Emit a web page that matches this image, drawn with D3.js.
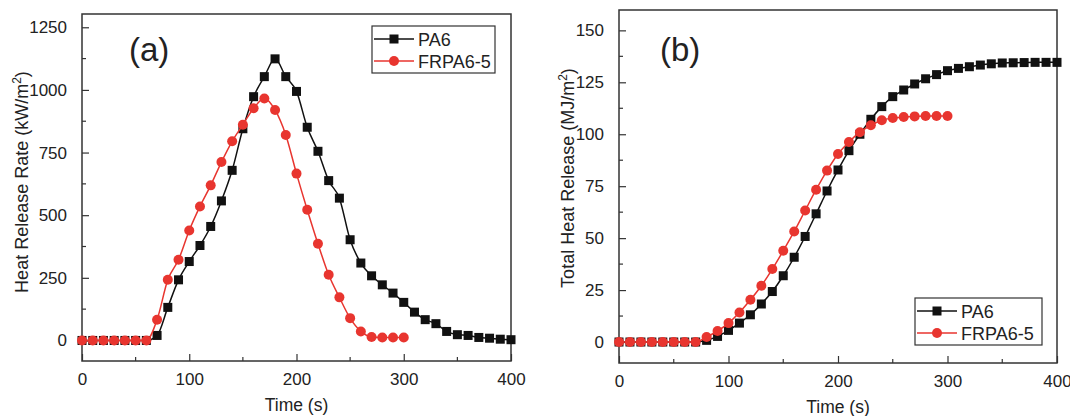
<html>
<head>
<style>
  body { margin: 0; background: #fff; }
  text { font-family: "Liberation Sans", Arial, sans-serif; fill: #222; }
</style>
</head>
<body>
<svg id="chart" width="1070" height="416"></svg>
<script src="https://cdn.jsdelivr.net/npm/d3@7"></script>
<script>
// time axis, 10 s steps
let timeA = d3.range(0, 401, 10)
let timeB = d3.range(0, 301, 10)

// (a) heat release rate, kW/m2
let hrrPA6 = [0, 0, 0, 0, 0, 0, 0, 20, 132, 242, 315, 379, 455, 557, 679, 845, 973, 1053, 1124, 1053, 994,
    851, 755, 638, 568, 402, 309, 258, 222, 189, 152, 113, 83, 67, 36, 23, 20, 12, 9, 5, 3]
let hrrFR = [0, 0, 0, 0, 0, 0, 0, 83, 242, 322, 439, 535, 619, 712, 795, 861, 927, 966, 920, 820, 666,
    522, 386, 262, 172, 89, 36, 14, 12, 12, 12]

// (b) total heat release, MJ/m2
let thrPA6 = [0, 0, 0, 0, 0, 0, 0, 0, 0.8, 2.7, 5.6, 9.1, 13.1, 18.3, 24.3, 31.9, 40.8, 50.8, 61.7, 72.7, 82.8,
    92.1, 100, 107.2, 113.3, 118.1, 121.3, 124.2, 126.7, 128.7, 130.6, 131.7, 132.5, 133.3, 133.9, 134.3,
    134.4, 134.5, 134.6, 134.6, 134.6]
let thrFR = [0, 0, 0, 0, 0, 0, 0, 0, 2.4, 5.3, 9.1, 14.2, 20.3, 27.1, 35.1, 43.9, 53.2, 63.3, 73.3, 82.5, 90.5,
    96.3, 101, 104.3, 106.7, 107.8, 108.3, 108.6, 108.8, 108.8, 108.8]

let seriesNames = ["PA6", "FRPA6-5"]
let xTicks = [0, 100, 200, 300, 400]
let yTicksA = [0, 250, 500, 750, 1000, 1250]
let yTicksB = [0, 25, 50, 75, 100, 125, 150]

let black = "#111"
let red = "#e8352f"
let svg = d3.select("#chart")

function drawPanel(opt) {
    let g = svg.append("g")
    let x = d3.scaleLinear().domain([0, 400]).range([opt.left, opt.right])
    let y = d3.scaleLinear().domain(opt.yDomain).range([opt.bottom, opt.top])

    // minor ticks
    let xMinor = d3.range(50, 400, 100)
    g.selectAll(".xminor").data(xMinor).enter().append("line")
        .attr("x1", d => x(d)).attr("x2", d => x(d))
        .attr("y1", opt.bottom).attr("y2", opt.bottom - 4)
        .attr("stroke", "#333").attr("stroke-width", 1.2)
    let yMinor = opt.yTicks.slice(0, -1).map(d => d + opt.yStep / 2)
    g.selectAll(".yminor").data(yMinor).enter().append("line")
        .attr("x1", opt.left).attr("x2", opt.left + 4)
        .attr("y1", d => y(d)).attr("y2", d => y(d))
        .attr("stroke", "#333").attr("stroke-width", 1.2)

    // axes
    let xAxis = g.append("g").attr("transform", `translate(0,${opt.bottom})`)
        .call(d3.axisBottom(x).tickValues(xTicks).tickFormat(d3.format("d"))
            .tickSizeInner(-7).tickSizeOuter(0).tickPadding(12))
    let yAxis = g.append("g").attr("transform", `translate(${opt.left},0)`)
        .call(d3.axisLeft(y).tickValues(opt.yTicks).tickFormat(d3.format("d"))
            .tickSizeInner(-7).tickSizeOuter(0).tickPadding(15))
    for (let ax of [xAxis, yAxis]) {
        ax.select(".domain").remove()
        ax.selectAll("line").attr("stroke", "#333").attr("stroke-width", 1.2)
        ax.selectAll("text").attr("font-size", 17).style("font-family", "Liberation Sans, Arial, sans-serif")
            .attr("fill", "#222")
    }

    // frame
    g.append("rect")
        .attr("x", opt.left).attr("y", opt.top)
        .attr("width", opt.right - opt.left).attr("height", opt.bottom - opt.top)
        .attr("fill", "none").attr("stroke", "#333").attr("stroke-width", 1.5)

    // titles
    g.append("text").attr("x", (opt.left + opt.right) / 2).attr("y", opt.xTitleY)
        .attr("text-anchor", "middle").attr("font-size", 17.5).text("Time (s)")
    let yt = g.append("text")
        .attr("transform", `translate(${opt.yTitleX},${opt.yTitleMid}) rotate(-90)`)
        .attr("text-anchor", "middle").attr("font-size", 18)
    yt.append("tspan").text(opt.yTitle)
    yt.append("tspan").attr("font-size", 12).attr("dy", -7).text("2")
    yt.append("tspan").attr("dy", 7).text(")")

    g.append("text").attr("x", opt.labelX).attr("y", opt.labelY)
        .attr("font-size", 33).text(opt.label)

    // series
    let line = d3.line().x(d => x(d[0])).y(d => y(d[1])).curve(d3.curveMonotoneX)
    let data1 = opt.t1.map((t, i) => [t, opt.s1[i]])
    let data2 = opt.t2.map((t, i) => [t, opt.s2[i]])

    g.append("path").datum(data1).attr("d", line)
        .attr("fill", "none").attr("stroke", black).attr("stroke-width", 1.5)
    g.selectAll(".sq").data(data1).enter().append("rect")
        .attr("x", d => x(d[0]) - 4.5).attr("y", d => y(d[1]) - 4.5)
        .attr("width", 9).attr("height", 9).attr("fill", black)

    g.append("path").datum(data2).attr("d", line)
        .attr("fill", "none").attr("stroke", red).attr("stroke-width", 1.5)
    g.selectAll(".ci").data(data2).enter().append("circle")
        .attr("cx", d => x(d[0])).attr("cy", d => y(d[1])).attr("r", 5)
        .attr("fill", red)

    // legend
    let lg = g.append("g").attr("transform", `translate(${opt.legX},${opt.legY})`)
    lg.append("rect").attr("width", opt.legW).attr("height", 47)
        .attr("fill", "white").attr("stroke", "#333").attr("stroke-width", 1.2)
    seriesNames.forEach((name, i) => {
        let cy = 13 + i * 22
        let col = i == 0 ? black : red
        lg.append("line").attr("x1", 2).attr("x2", 42).attr("y1", cy).attr("y2", cy)
            .attr("stroke", col).attr("stroke-width", 1.5)
        if (i == 0) {
            lg.append("rect").attr("x", 22 - 4.5).attr("y", cy - 4.5).attr("width", 9).attr("height", 9).attr("fill", col)
        } else {
            lg.append("circle").attr("cx", 22).attr("cy", cy).attr("r", 5).attr("fill", col)
        }
        lg.append("text").attr("x", 46).attr("y", cy + 6.5).attr("font-size", 18).text(name)
    })
}

drawPanel({
    left: 82, right: 511, top: 14, bottom: 361,
    yDomain: [-82, 1303], yTicks: yTicksA, yStep: 250,
    t1: timeA, s1: hrrPA6, t2: timeB, s2: hrrFR,
    yTitle: "Heat Release Rate (kW/m", yTitleX: 28, yTitleMid: 182, xTitleY: 411,
    label: "(a)", labelX: 129, labelY: 61,
    legX: 372, legY: 26, legW: 123
})

drawPanel({
    left: 619, right: 1057, top: 10, bottom: 363,
    yDomain: [-10.1, 159.8], yTicks: yTicksB, yStep: 25,
    t1: timeA, s1: thrPA6, t2: timeB, s2: thrFR,
    yTitle: "Total Heat Release (MJ/m", yTitleX: 574, yTitleMid: 178, xTitleY: 413,
    label: "(b)", labelX: 660, labelY: 61,
    legX: 915, legY: 298, legW: 127
})
</script>
</body>
</html>
